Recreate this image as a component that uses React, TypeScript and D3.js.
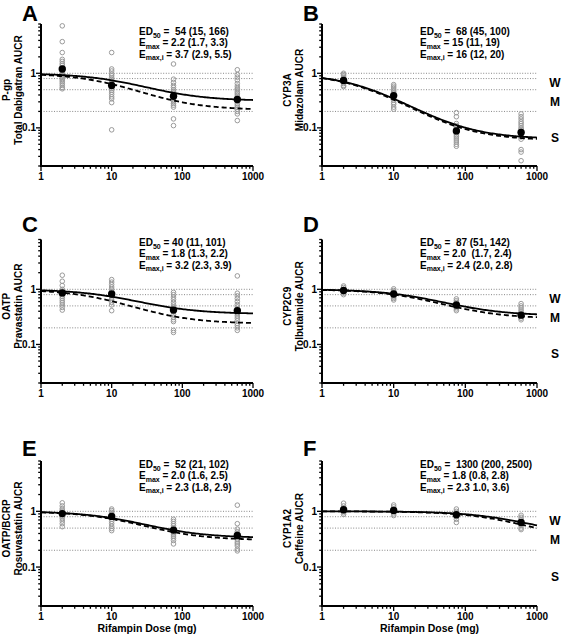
import React from "react";
import * as d3 from "d3";

// ---------- data ----------
const doses = [2, 10, 75, 600];
const panelLetters = ["A", "B", "C", "D", "E", "F"];
const pathwayLabels = ["P-gp", "CYP3A", "OATP", "CYP2C9", "OATP/BCRP", "CYP1A2"];
const probeLabels = [
  "Total Dabigatran AUCR",
  "Midazolam AUCR",
  "Pravastatin AUCR",
  "Tolbutamide AUCR",
  "Rosuvastatin AUCR",
  "Caffeine AUCR",
];
// fitted Emax model parameters (AUCR = 1 / (1 + Emax*D/(ED50+D)))
const ed50 = [54, 68, 40, 87, 52, 1300];
const emax = [2.2, 15, 1.8, 2.0, 2.0, 1.8];
const emaxI = [3.7, 16, 3.2, 2.4, 2.3, 2.3];
const ed50Text = ["=  54 (15, 166)", "=  68 (45, 100)", "= 40 (11, 101)", "=  87 (51, 142)", "=  52 (21, 102)", "=  1300 (200, 2500)"];
const emaxText = ["= 2.2 (1.7, 3.3)", "= 15 (11, 19)", "= 1.8 (1.3, 2.2)", "= 2.0  (1.7, 2.4)", "= 2.0 (1.6, 2.5)", "= 1.8 (0.8, 2.8)"];
const emaxIText = ["= 3.7 (2.9, 5.5)", "= 16 (12, 20)", "= 3.2 (2.3, 3.9)", "= 2.4 (2.0, 2.8)", "= 2.3 (1.8, 2.9)", "= 2.3 1.0, 3.6)"];

// individual AUCR per dose (2, 10, 75, 600 mg)
const pgpAUCR = [
  [7.4, 3.8, 2.4, 1.8, 1.65, 1.5, 1.4, 1.2, 1.1, 1.0, 0.95, 0.9, 0.85, 0.8, 0.75, 0.7, 0.65, 0.6, 0.55, 0.52],
  [2.4, 1.2, 1.1, 0.97, 0.9, 0.83, 0.77, 0.72, 0.67, 0.62, 0.57, 0.53, 0.49, 0.45, 0.41, 0.37, 0.34, 0.29, 0.092],
  [1.48, 0.78, 0.68, 0.6, 0.55, 0.5, 0.47, 0.44, 0.41, 0.38, 0.35, 0.32, 0.3, 0.28, 0.26, 0.24, 0.146, 0.11],
  [1.16, 0.95, 0.85, 0.75, 0.65, 0.58, 0.53, 0.5, 0.46, 0.43, 0.4, 0.37, 0.34, 0.31, 0.28, 0.26, 0.24, 0.22, 0.2, 0.18, 0.136],
];
const cyp3aAUCR = [
  [1.0, 0.95, 0.9, 0.85, 0.8, 0.75, 0.7, 0.65, 0.6, 0.57],
  [0.62, 0.58, 0.54, 0.5, 0.47, 0.44, 0.41, 0.38, 0.35, 0.32, 0.29, 0.27, 0.24, 0.22],
  [0.19, 0.16, 0.12, 0.11, 0.1, 0.095, 0.088, 0.082, 0.075, 0.07, 0.065, 0.06, 0.055, 0.05, 0.046],
  [0.18, 0.16, 0.145, 0.13, 0.12, 0.11, 0.1, 0.095, 0.088, 0.08, 0.075, 0.068, 0.062, 0.04, 0.036, 0.025],
];
const oatpAUCR = [
  [1.8, 1.4, 1.17, 1.0, 0.93, 0.86, 0.8, 0.74, 0.68, 0.62, 0.57, 0.52, 0.47, 0.42],
  [1.5, 1.35, 1.22, 1.1, 1.0, 0.92, 0.84, 0.77, 0.7, 0.64, 0.58, 0.52, 0.41],
  [0.88, 0.8, 0.72, 0.65, 0.58, 0.52, 0.47, 0.43, 0.39, 0.35, 0.31, 0.28, 0.26, 0.18, 0.165],
  [1.75, 0.85, 0.76, 0.68, 0.6, 0.53, 0.48, 0.44, 0.4, 0.36, 0.33, 0.3, 0.27, 0.24, 0.22, 0.2, 0.18],
];
const cyp2c9AUCR = [
  [1.15, 1.08, 1.0, 0.95, 0.9, 0.85, 0.8],
  [1.02, 0.95, 0.9, 0.85, 0.8, 0.76, 0.72, 0.68, 0.64],
  [0.67, 0.62, 0.58, 0.54, 0.5, 0.47, 0.44, 0.41],
  [0.55, 0.5, 0.46, 0.42, 0.39, 0.36, 0.33, 0.3, 0.28],
];
const bcrpAUCR = [
  [1.42, 1.25, 1.12, 1.05, 0.98, 0.92, 0.86, 0.8, 0.74, 0.67, 0.6, 0.53],
  [1.1, 1.03, 0.96, 0.9, 0.84, 0.78, 0.72, 0.66, 0.6, 0.54, 0.49, 0.45],
  [0.72, 0.66, 0.6, 0.55, 0.5, 0.46, 0.42, 0.39, 0.36, 0.33, 0.3, 0.26],
  [1.29, 0.6, 0.48, 0.43, 0.4, 0.37, 0.34, 0.31, 0.28, 0.26, 0.24, 0.21, 0.195],
];
const cyp1a2AUCR = [
  [1.4, 1.25, 1.15, 1.07, 1.0, 0.94, 0.88],
  [1.3, 1.2, 1.1, 1.03, 0.96, 0.9, 0.84],
  [1.1, 1.0, 0.93, 0.86, 0.8, 0.72, 0.63],
  [0.85, 0.78, 0.72, 0.66, 0.6, 0.55, 0.5, 0.47],
];
const individualAUCR = [pgpAUCR, cyp3aAUCR, oatpAUCR, cyp2c9AUCR, bcrpAUCR, cyp1a2AUCR];

const meanAUCR = [
  [1.2, 0.6, 0.38, 0.33],
  [0.74, 0.39, 0.088, 0.082],
  [0.86, 0.82, 0.42, 0.41],
  [0.95, 0.82, 0.52, 0.34],
  [0.91, 0.81, 0.46, 0.37],
  [1.07, 1.04, 0.87, 0.63],
];

const refLines = [1, 0.8, 0.5, 0.2];
const severityLabels = ["W", "M", "S"];
const severityAt = [0.66, 0.3, 0.066];
const xTickLabels = [1, 10, 100, 1000];
const yTickLabels = [1, 0.1];
const xTitle = "Rifampin Dose (mg)";

// ---------- layout ----------
const W = 563;
const H = 636;
const FONT = "'Liberation Sans', Arial, Helvetica, sans-serif";
const cols = [
  [41, 253],
  [322, 537],
];
const rows = [
  [24, 166],
  [239.5, 383],
  [461, 606],
];
const letterY = [21, 232, 456];
const annotY = [35, 246, 468];

const model = (d: number, e50: number, em: number) => 1 / (1 + (em * d) / (e50 + d));
const curveGrid = d3.range(0, 3.0001, 0.02).map((e) => Math.pow(10, e));
const nb = (s: string) => s.replace(/ /g, "\u00a0");

function Panel({ i }: { i: number }) {
  const col = i % 2;
  const row = Math.floor(i / 2);
  const [x0, x1] = cols[col];
  const [y0, y1] = rows[row];
  const x = d3.scaleLog().domain([1, 1000]).range([x0, x1]);
  const y = d3.scaleLog().domain([0.02, 8]).range([y1, y0]);
  const lineGen = d3
    .line<[number, number]>()
    .x((d) => x(d[0]))
    .y((d) => y(d[1]));
  const solid = lineGen(curveGrid.map((d) => [d, model(d, ed50[i], emax[i])] as [number, number]));
  const dashed = lineGen(curveGrid.map((d) => [d, model(d, ed50[i], emaxI[i])] as [number, number]));
  const isPow10 = (v: number) => Math.abs(Math.log10(v) - Math.round(Math.log10(v))) < 1e-9;
  const yTicks = y.ticks();
  const xTicks = x.ticks();
  const tx = x0 + 98;
  const midY = (y0 + y1) / 2 - 5;
  const labX1 = x0 - 34.5;
  const labX2 = x0 - 23;
  return (
    <g>
      {/* panel letter */}
      <text x={x0 - 19} y={letterY[row]} fontSize={22} fontWeight="bold" fontFamily={FONT}>
        {panelLetters[i]}
      </text>
      {/* y axis title */}
      <text
        transform={`translate(${labX1},${midY}) rotate(-90)`}
        textAnchor="middle"
        dominantBaseline="central"
        fontSize={10}
        fontWeight="bold"
        fontFamily={FONT}
      >
        {pathwayLabels[i]}
      </text>
      <text
        transform={`translate(${labX2},${midY}) rotate(-90)`}
        textAnchor="middle"
        dominantBaseline="central"
        fontSize={10}
        fontWeight="bold"
        fontFamily={FONT}
      >
        {probeLabels[i]}
      </text>
      {/* reference lines */}
      {refLines.map((v) => (
        <line key={v} x1={x0} x2={x1} y1={y(v)} y2={y(v)} stroke="#7a7a7a" strokeWidth={0.9} strokeDasharray="1,1.6" />
      ))}
      {/* individuals */}
      {individualAUCR[i].map((arr, k) =>
        arr.map((v, j) => (
          <circle key={`${k}-${j}`} cx={x(doses[k])} cy={y(v)} r={2.3} fill="none" stroke="#9a9a9a" strokeWidth={1} />
        ))
      )}
      {/* model curves */}
      <path d={dashed || ""} fill="none" stroke="#000" strokeWidth={1.8} strokeDasharray="5,3" />
      <path d={solid || ""} fill="none" stroke="#000" strokeWidth={1.8} />
      {/* means */}
      {meanAUCR[i].map((v, k) => (
        <circle key={k} cx={x(doses[k])} cy={y(v)} r={3.7} fill="#000" />
      ))}
      {/* y axis */}
      <line x1={x0} x2={x0} y1={y0} y2={y1 + 1} stroke="#000" strokeWidth={2} />
      {yTicks.map((v, k) => (
        <line key={k} x1={x0} x2={x0 - (isPow10(v) ? 5 : 2.8)} y1={y(v)} y2={y(v)} stroke="#000" strokeWidth={1.3} />
      ))}
      {yTickLabels.map((v) => (
        <text key={v} x={x0 - 5} y={y(v)} dy="0.35em" textAnchor="end" fontSize={10} fontWeight="bold" fontFamily={FONT}>
          {v === 1 ? "1" : "0.1"}
        </text>
      ))}
      {/* x axis */}
      <line x1={x0 - 1} x2={x1} y1={y1} y2={y1} stroke="#000" strokeWidth={2} />
      {xTicks.map((v, k) => (
        <line key={k} x1={x(v)} x2={x(v)} y1={y1} y2={y1 + (isPow10(v) ? 5 : 2.8)} stroke="#000" strokeWidth={1.3} />
      ))}
      {xTickLabels.map((v) => (
        <text key={v} x={x(v)} y={y1 + 14} textAnchor="middle" fontSize={10} fontWeight="bold" fontFamily={FONT}>
          {String(v)}
        </text>
      ))}
      {row === 2 && (
        <text x={(x0 + x1) / 2} y={y1 + 26} textAnchor="middle" fontSize={10.5} fontWeight="bold" fontFamily={FONT}>
          {xTitle}
        </text>
      )}
      {/* severity labels */}
      {col === 1 &&
        severityLabels.map((s, k) => (
          <text
            key={s}
            x={x1 + 18}
            y={y(severityAt[k])}
            dominantBaseline="central"
            textAnchor="middle"
            fontSize={12}
            fontWeight="bold"
            fontFamily={FONT}
          >
            {s}
          </text>
        ))}
      {/* annotations */}
      <g fontSize={10} fontWeight="bold" fontFamily={FONT} fill="#000">
        <text x={tx} y={annotY[row]}>
          ED<tspan fontSize={7} dy={2.5}>50</tspan>
          <tspan dy={-2.5}>{nb(" " + ed50Text[i])}</tspan>
        </text>
        <text x={tx} y={annotY[row] + 11.3}>
          E<tspan fontSize={7} dy={2.5}>max</tspan>
          <tspan dy={-2.5}>{nb(" " + emaxText[i])}</tspan>
        </text>
        <text x={tx} y={annotY[row] + 22.6}>
          E<tspan fontSize={7} dy={2.5}>max,i</tspan>
          <tspan dy={-2.5}>{nb(" " + emaxIText[i])}</tspan>
        </text>
      </g>
    </g>
  );
}

export default function App() {
  return (
    <svg width={W} height={H} style={{ display: "block", position: "absolute", left: 0, top: 0, background: "#fff" }}>
      {panelLetters.map((_, i) => (
        <Panel key={i} i={i} />
      ))}
    </svg>
  );
}
